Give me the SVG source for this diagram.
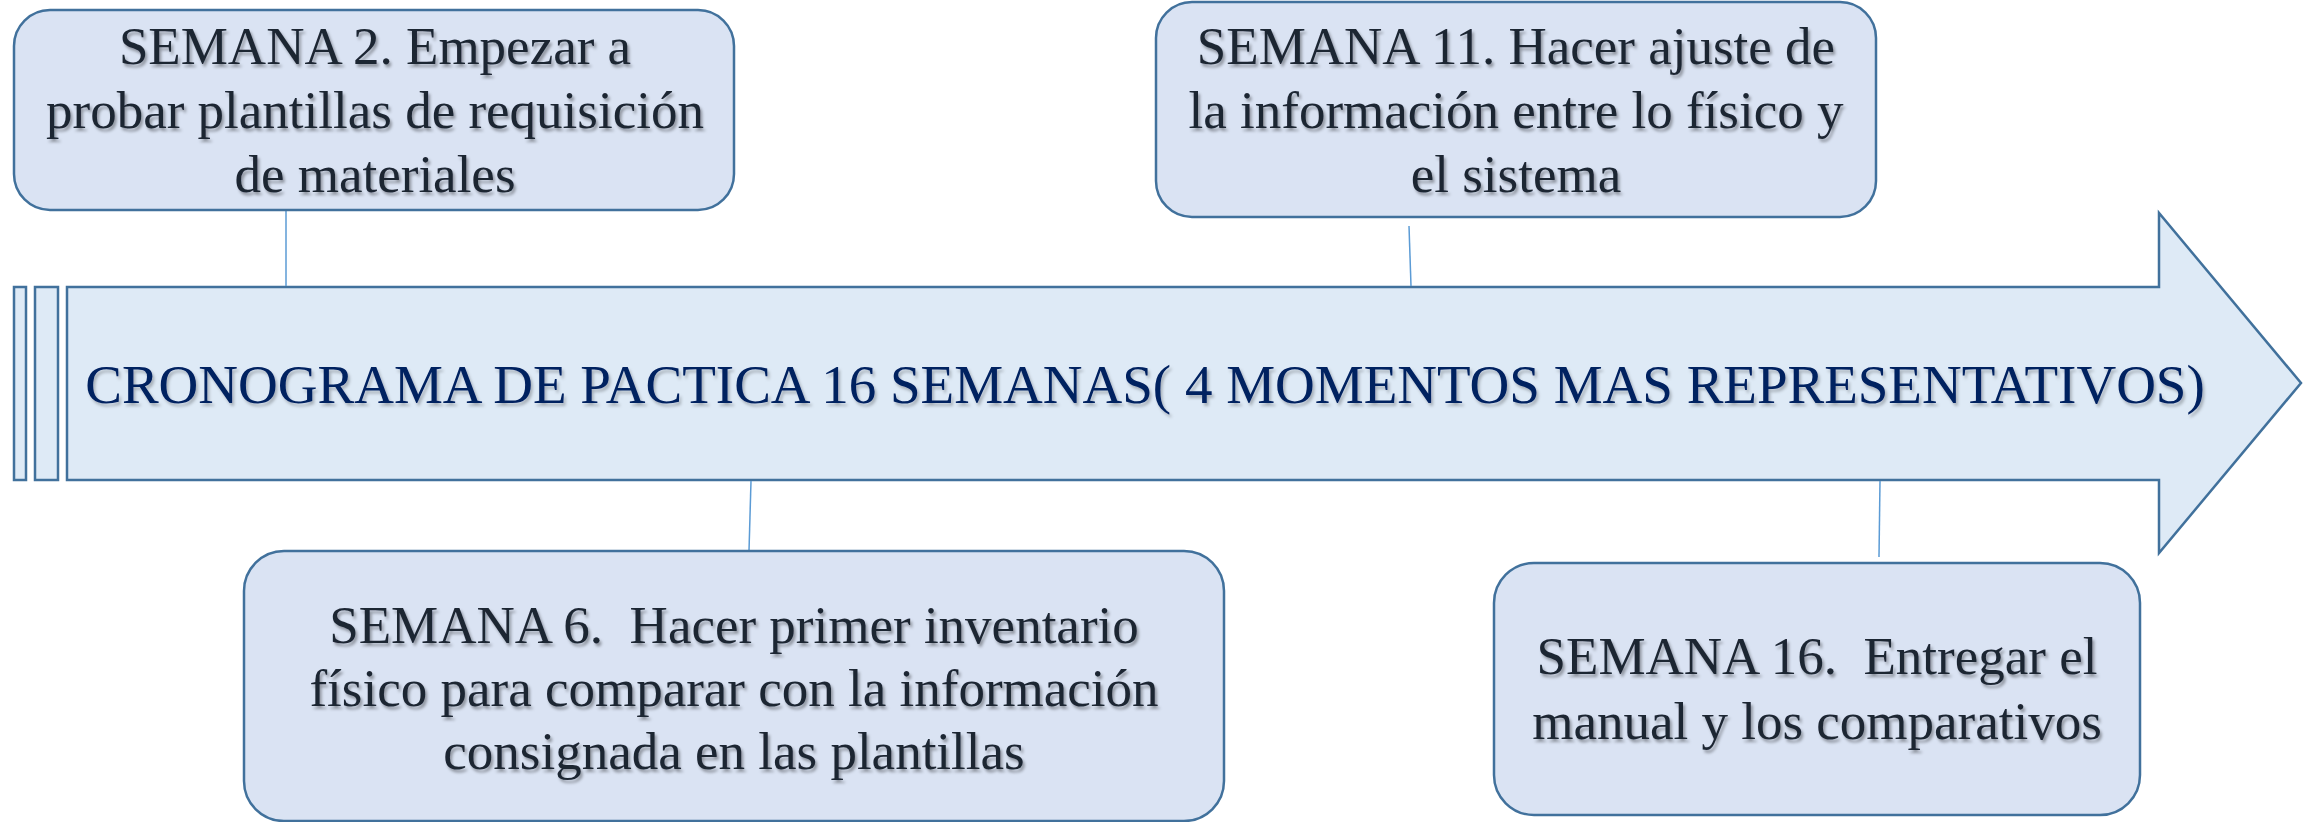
<svg xmlns="http://www.w3.org/2000/svg" width="2303" height="822" viewBox="0 0 2303 822">
<style>
.box{fill:#dae3f3;stroke:#41719c;stroke-width:2.5}
.arrow{fill:#deeaf6;stroke:#41719c;stroke-width:2.5}
.conn{stroke:#5b9bd5;stroke-width:1.5;fill:none}
.t{font-family:"Liberation Serif","Times New Roman",serif;font-size:53px;fill:#1c2533;text-anchor:middle;filter:url(#sh)}
.title{font-family:"Liberation Serif","Times New Roman",serif;font-size:55px;fill:#002060;text-anchor:middle;filter:url(#sh2)}
</style>
<defs>
<filter id="sh" x="-5%" y="-20%" width="110%" height="150%">
<feDropShadow dx="2" dy="3" stdDeviation="1.5" flood-color="#000" flood-opacity="0.35"/>
</filter>
<filter id="sh2" x="-5%" y="-20%" width="110%" height="150%">
<feDropShadow dx="2" dy="3" stdDeviation="1.5" flood-color="#000" flood-opacity="0.25"/>
</filter>
</defs>
<g id="timeline">
<rect class="arrow" x="14" y="287" width="12" height="193"/>
<rect class="arrow" x="35" y="287" width="23" height="193"/>
<path class="arrow" d="M67,287 H2159 V213 L2301,383 L2159,553 V480 H67 Z"/>
<text class="title" x="1145" y="403">CRONOGRAMA DE PACTICA 16 SEMANAS( 4 MOMENTOS MAS REPRESENTATIVOS)</text>
</g>
<g id="connectors">
<line class="conn" x1="286" y1="211" x2="286" y2="286"/>
<line class="conn" x1="1409" y1="226" x2="1411" y2="286"/>
<line class="conn" x1="751" y1="481" x2="749" y2="551"/>
<line class="conn" x1="1880" y1="481" x2="1879" y2="557"/>
</g>
<g id="semana2">
<rect class="box" x="14" y="10" width="720" height="200" rx="36" ry="36"/>
<text class="t" x="375" y="64">SEMANA 2. Empezar a</text>
<text class="t" x="375" y="128">probar plantillas de requisición</text>
<text class="t" x="375" y="192">de materiales</text>
</g>
<g id="semana11">
<rect class="box" x="1156" y="2" width="720" height="215" rx="36" ry="36"/>
<text class="t" x="1516" y="64">SEMANA 11. Hacer ajuste de</text>
<text class="t" x="1516" y="128">la información entre lo físico y</text>
<text class="t" x="1516" y="192">el sistema</text>
</g>
<g id="semana6">
<rect class="box" x="244" y="551" width="980" height="270" rx="40" ry="40"/>
<text class="t" x="734" y="643" xml:space="preserve">SEMANA 6.  Hacer primer inventario</text>
<text class="t" x="734" y="706">físico para comparar con la información</text>
<text class="t" x="734" y="769">consignada en las plantillas</text>
</g>
<g id="semana16">
<rect class="box" x="1494" y="563" width="646" height="252" rx="40" ry="40"/>
<text class="t" x="1817" y="674" xml:space="preserve">SEMANA 16.  Entregar el</text>
<text class="t" x="1817" y="739">manual y los comparativos</text>
</g>
</svg>
